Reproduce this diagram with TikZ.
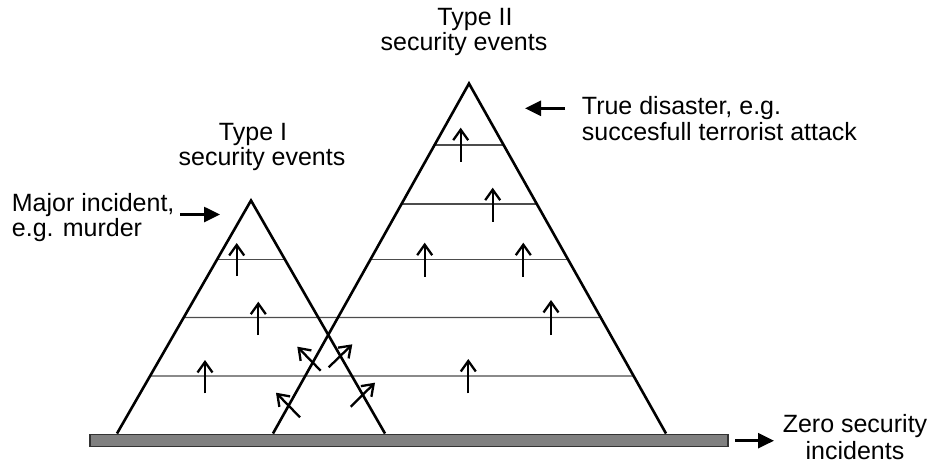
\documentclass[tikz,border=0pt]{standalone}
\usepackage{fontspec}
\setmainfont{Liberation Sans}
\usetikzlibrary{arrows.meta,calc}
\begin{document}
\begin{tikzpicture}[x=1pt,y=-1pt,
  tri/.style={line width=2.6pt, line join=miter},
  level/.style={line width=1.4pt, draw=black!70},
  up/.style={line width=2.3pt, -{Straight Barb[length=10.5pt,width=15pt]}},
  ptr/.style={line width=2.6pt, -{Triangle[length=16pt,width=15pt]}},
  lbl/.style={font=\fontsize{25}{26}\selectfont, inner sep=0pt}
]
\useasboundingbox (0,0) rectangle (929,466);
% triangle corners
\coordinate (A1) at (251,200.5);
\coordinate (L1) at (117,433.5);
\coordinate (R1) at (385,433.5);
\coordinate (A2) at (469,83.5);
\coordinate (L2) at (273,433.5);
\coordinate (R2) at (666,433.5);
% level lines
\draw[level] ($(A2)!0.1757!(L2)$) -- ($(A2)!0.1757!(R2)$);
\draw[level] ($(A2)!0.3443!(L2)$) -- ($(A2)!0.3443!(R2)$);
\draw[level] ($(A1)!0.2532!(L1)$) -- ($(A1)!0.2532!(R1)$);
\draw[level] ($(A2)!0.5029!(L2)$) -- ($(A2)!0.5029!(R2)$);
\draw[level] ($(A1)!0.5021!(L1)$) -- ($(A2)!0.6686!(R2)$);
\draw[level] ($(A1)!0.7532!(L1)$) -- ($(A2)!0.8357!(R2)$);
% base bar
\draw[line width=1.5pt, draw=black!80, fill=black!50] (90,434.5) rectangle (728,446.5);
% triangles
\draw[tri] (L1) -- (A1) -- (R1);
\draw[tri] (L2) -- (A2) -- (R2);
% up arrows
\foreach \x/\ya/\yb in {236.7/276/243, 258.3/335/301.7, 205/393.3/360,
  460.7/161.7/127.7, 492.7/221.7/187.7, 424.7/276.7/242.7, 523.3/276.7/242.7,
  551/335/300, 468.3/393.3/359}
  \draw[up] (\x,\ya) -- (\x,\yb);
% diagonal arrows
\draw[up] (320.7,370.7) -- (297.3,346.7);
\draw[up] (328.7,367.3) -- (352.3,344.3);
\draw[up] (300,417.3) -- (276,392.7);
\draw[up] (350.7,406.7) -- (375,382.7);
% labels
\node[lbl, anchor=base] (t2a) at (475,25) {Type II};
\node[lbl, anchor=base] (t2b) at (464,50) {security events};
\node[lbl, anchor=base] (t1a) at (253,140) {Type I};
\node[lbl, anchor=base] (t1b) at (262,165) {security events};
\node[lbl, anchor=base west] (tda) at (581.7,114.3) {True disaster, e.g.};
\node[lbl, anchor=base west] (tdb) at (581.7,140) {succesfull terrorist attack};
\node[lbl, anchor=base west] (mia) at (11.7,211.7) {Major incident,};
\node[lbl, anchor=base west] (mib) at (11.7,236) {e.g. murder};
\node[lbl, anchor=base] (zsa) at (855,432) {Zero security};
\node[lbl, anchor=base] (zsb) at (855,459) {incidents};
% pointer arrows
\coordinate (p1s) at (180,214.5); \coordinate (p1e) at (220,214.5);
\coordinate (p2s) at (565,108.3); \coordinate (p2e) at (525,108.3);
\coordinate (p3s) at (735,440.7); \coordinate (p3e) at (774,440.7);
\draw[ptr] (p1s) -- (p1e);
\draw[ptr] (p2s) -- (p2e);
\draw[ptr] (p3s) -- (p3e);
\end{tikzpicture}
\end{document}
